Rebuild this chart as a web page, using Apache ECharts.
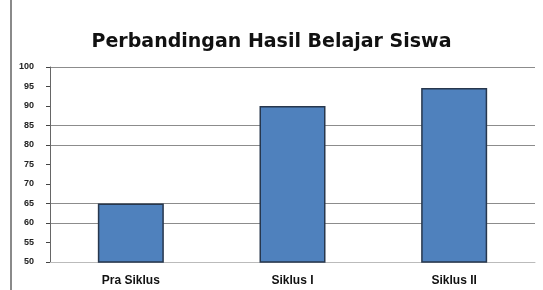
<!DOCTYPE html>
<html>
<head>
<meta charset="utf-8">
<script src="https://cdn.jsdelivr.net/npm/echarts@6/dist/echarts.min.js"></script>
<style>
  html, body { margin: 0; padding: 0; background: #fff; }
  #chart { width: 543px; height: 290px; position: relative; }
  #edge { position: absolute; left: 10px; top: 0; width: 0; height: 290px; border-left: 2px solid #8a8a8a; }
</style>
</head>
<body>
<div id="chart"></div>
<div id="edge"></div>
<script>
// data
var categories = ['Pra Siklus', 'Siklus I', 'Siklus II'];
var nilai = [65, 90, 94.6];
var yMin = 50, yMax = 100, yStep = 5;

var myChart = echarts.init(document.getElementById('chart'));
var option = {
    title: {
        text: 'Perbandingan Hasil Belajar Siswa',
        left: 'center',
        top: 28,
        textStyle: {
            fontFamily: 'DejaVu Sans',
            fontSize: 19,
            fontWeight: 'bold',
            color: '#111'
        }
    },
    grid: {
        left: 50,
        right: 8,
        top: 67,
        bottom: 28
    },
    xAxis: {
        type: 'category',
        data: categories,
        axisTick: { show: false },
        axisLine: { lineStyle: { color: '#bbb', width: 1 } },
        axisLabel: {
            margin: 13,
            fontFamily: 'Liberation Sans',
            fontSize: 12,
            fontWeight: 'bold',
            color: '#111'
        }
    },
    yAxis: {
        type: 'value',
        min: yMin,
        max: yMax,
        interval: yStep,
        axisLine: { show: true, lineStyle: { color: '#666', width: 1 } },
        axisTick: { show: true, length: 4, lineStyle: { color: '#444' } },
        axisLabel: {
            margin: 16,
            fontFamily: 'Liberation Sans',
            fontSize: 9,
            fontWeight: 'bold',
            color: '#222'
        },
        splitLine: {
            show: true,
            lineStyle: {
                color: ['transparent', 'transparent', '#8c8c8c', '#8c8c8c', 'transparent', 'transparent',
                        '#8c8c8c', '#8c8c8c', 'transparent', 'transparent', '#8c8c8c'],
                width: 1
            }
        }
    },
    series: [
        {
            name: 'Nilai',
            type: 'bar',
            data: nilai,
            barWidth: 66,
            itemStyle: {
                color: '#4f81bd',
                borderColor: '#27374d',
                borderWidth: 1.5
            }
        }
    ]
};
myChart.setOption(option);
</script>
</body>
</html>
